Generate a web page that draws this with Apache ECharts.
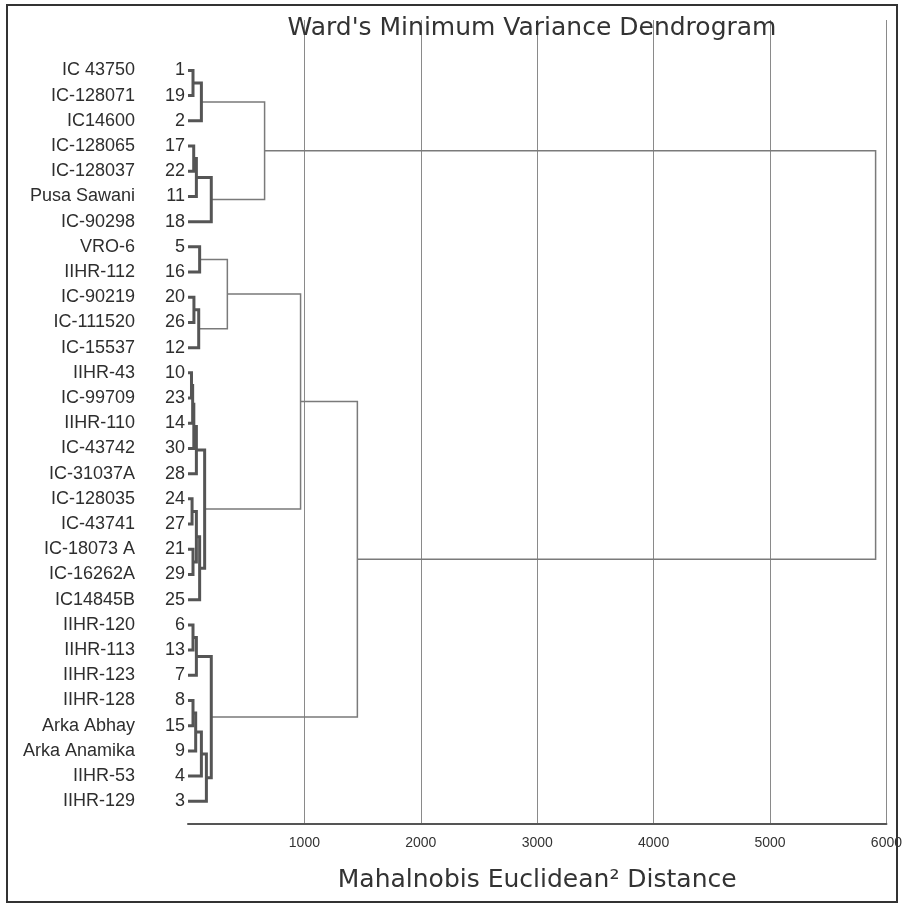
<!DOCTYPE html>
<html>
<head>
<meta charset="utf-8">
<script src="https://cdn.jsdelivr.net/npm/echarts@6/dist/echarts.min.js"></script>
<style>html,body{margin:0;padding:0;background:#fff}#c{width:905px;height:907px}</style>
</head>
<body>
<div id="c"></div>
<script>
// Leaves, top to bottom
const leafNames = ['IC 43750','IC-128071','IC14600','IC-128065','IC-128037','Pusa Sawani','IC-90298','VRO-6','IIHR-112','IC-90219','IC-111520','IC-15537','IIHR-43','IC-99709','IIHR-110','IC-43742','IC-31037A','IC-128035','IC-43741','IC-18073 A','IC-16262A','IC14845B','IIHR-120','IIHR-113','IIHR-123','IIHR-128','Arka Abhay','Arka Anamika','IIHR-53','IIHR-129'];
const leafIds = [1,19,2,17,22,11,18,5,16,20,26,12,10,23,14,30,28,24,27,21,29,25,6,13,7,8,15,9,4,3];
// Merges: node ids 0..29 are leaves, 30+k is the k-th merge
const mergeLeft   = [0,30,3,32,33,31,7,9,37,36,12,40,41,42,17,19,44,46,43,39,22,50,25,52,53,54,51,49,35];
const mergeRight  = [1,2,4,5,6,34,8,10,11,38,13,14,15,16,18,20,45,21,47,48,23,24,26,27,28,29,55,56,57];
const mergeHeight = [43,115,49,72,200,658,100,51,92,338,30,40,50,72,35,43,72,100,143,967,43,72,43,66,115,158,200,1455,5907];
const xTicks = [0,1000,2000,3000,4000,5000,6000];

// layout from the merge table
const nodeY = leafNames.map((_, i) => i);
const nodeH = leafNames.map(() => 0);
const links = [];
for (let k = 0; k < mergeHeight.length; k++) {
  const a = mergeLeft[k], b = mergeRight[k], h = mergeHeight[k];
  links.push([h, nodeH[a], nodeY[a], nodeH[b], nodeY[b]]);
  nodeY.push((nodeY[a] + nodeY[b]) / 2);
  nodeH.push(h);
}
links.sort((p, q) => q[0] - p[0]);

const chart = echarts.init(document.getElementById('c'), null, {renderer: 'canvas'});
chart.setOption({
  backgroundColor: '#fff',
  animation: false,
  title: {
    text: "Ward's Minimum Variance Dendrogram",
    left: 527, top: 11, textAlign: 'center',
    textStyle: {fontFamily: 'DejaVu Sans', fontSize: 25, fontWeight: 'normal', color: '#333'}
  },
  graphic: [{
    type: 'rect', z: 100, silent: true,
    shape: {x: 7, y: 5, width: 890, height: 897},
    style: {fill: null, stroke: '#333', lineWidth: 2}
  }],
  grid: {left: 188, right: 17, top: 20, bottom: 83},
  xAxis: {
    type: 'value', min: xTicks[0], max: xTicks[xTicks.length - 1], interval: 1000,
    name: 'Mahalnobis Euclidean² Distance', nameLocation: 'middle', nameGap: 44,
    nameTextStyle: {fontFamily: 'DejaVu Sans', fontSize: 25, color: '#333'},
    axisLine: {show: true, onZero: false, lineStyle: {color: '#555', width: 2}},
    axisTick: {show: false},
    axisLabel: {margin: 12, fontFamily: 'Liberation Sans', fontSize: 14, color: '#333',
      formatter: v => (v === 0 ? '' : String(v))},
    splitLine: {show: true, showMinLine: false, lineStyle: {color: '#8a8a8a', width: 1}}
  },
  yAxis: {
    type: 'value', inverse: true, min: -2, max: 29.9, interval: 1,
    axisLine: {show: false}, axisTick: {show: false}, splitLine: {show: false},
    axisLabel: {
      margin: 3, showMaxLabel: false,
      formatter: v => (v >= 0 && v < leafNames.length && Number.isInteger(v)) ? '{n|' + leafNames[v] + '}{k|' + leafIds[v] + '}' : '',
      rich: {
        n: {width: 130, align: 'right', fontFamily: 'Liberation Sans', fontSize: 18, color: '#2e2e2e'},
        k: {width: 50, align: 'right', fontFamily: 'Liberation Sans', fontSize: 18, color: '#2e2e2e'}
      }
    }
  },
  series: [{
    type: 'custom',
    clip: false,
    data: links,
    encode: {x: [0, 1, 3], y: [2, 4]},
    renderItem: function (params, api) {
      const h = api.value(0), ha = api.value(1), ya = api.value(2), hb = api.value(3), yb = api.value(4);
      const thick = h < 250;
      return {
        type: 'polyline',
        shape: {points: [api.coord([ha, ya]), api.coord([h, ya]), api.coord([h, yb]), api.coord([hb, yb])]},
        style: {fill: null, stroke: thick ? '#555' : '#7a7a7a', lineWidth: thick ? 3 : 1.5, lineJoin: 'miter', lineCap: 'butt'}
      };
    }
  }]
});
</script>
</body>
</html>
